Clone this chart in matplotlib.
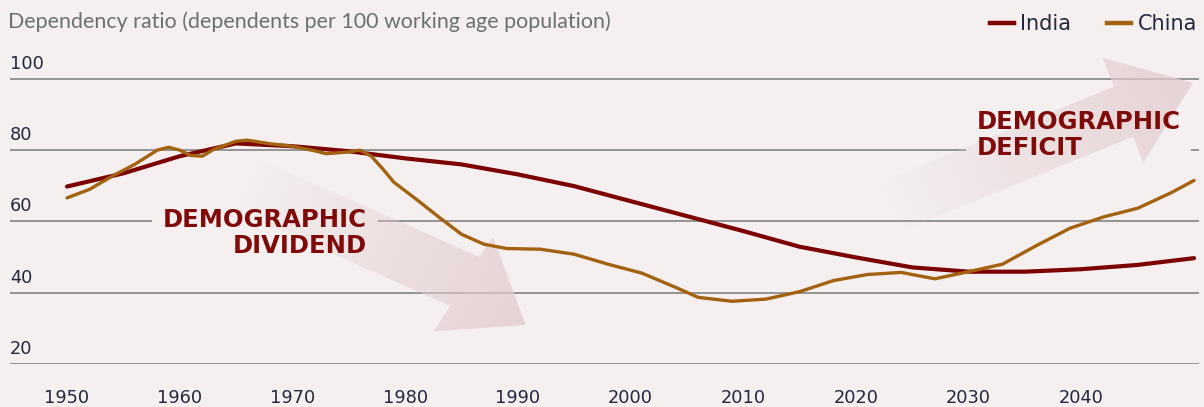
import numpy as np
import matplotlib
matplotlib.use("Agg")
import matplotlib.pyplot as plt
from matplotlib.patches import Polygon
from matplotlib.lines import Line2D

# Dependency ratio series (dependents per 100 working age population)
india_years = [1950, 1955, 1960, 1965, 1970, 1975, 1980, 1985, 1990, 1995, 2000,
               2005, 2010, 2015, 2020, 2025, 2030, 2035, 2040, 2045, 2050]
india_ratio = [69.8, 73.5, 78.3, 81.9, 81.1, 79.7, 77.7, 76.0, 73.2, 69.9, 65.7,
               61.5, 57.3, 52.9, 49.9, 47.1, 45.9, 45.9, 46.6, 47.8, 49.7]

china_years = [1950, 1952, 1954, 1956, 1958, 1959, 1960, 1961, 1962, 1963, 1965,
               1966, 1968, 1970, 1972, 1973, 1975, 1976, 1977, 1978, 1979, 1981,
               1983, 1985, 1987, 1989, 1992, 1995, 1998, 2001, 2004, 2006, 2009,
               2012, 2015, 2018, 2021, 2024, 2027, 2030, 2033, 2036, 2039, 2042,
               2045, 2048, 2050]
china_ratio = [66.6, 69.0, 72.7, 76.0, 80.0, 80.8, 80.0, 78.5, 78.3, 80.2, 82.5,
               82.8, 81.8, 81.1, 79.8, 79.0, 79.5, 80.0, 78.3, 74.8, 71.0, 66.2,
               61.2, 56.4, 53.6, 52.4, 52.2, 50.8, 48.0, 45.5, 41.5, 38.7, 37.6,
               38.2, 40.3, 43.4, 45.1, 45.7, 43.9, 45.9, 48.0, 53.2, 58.1, 61.3,
               63.7, 68.1, 71.5]

x_ticks = [1950, 1960, 1970, 1980, 1990, 2000, 2010, 2020, 2030, 2040]
y_ticks = [20, 40, 60, 80, 100]

# decorative trend arrows, outline as (year, ratio) from tail to head
dividend_arrow = [(1967.1, 77.4), (1986.6, 50.0), (1987.8, 55.6), (1990.7, 31.0),
                  (1982.5, 29.1), (1984.0, 36.3), (1964.5, 63.7)]
deficit_arrow = [(2022.1, 70.9), (2042.9, 97.8), (2041.9, 105.9), (2049.9, 98.9),
                 (2045.5, 76.5), (2044.6, 83.8), (2023.8, 57.0)]

BG = "#f5efef"
INDIA = "#7d0000"
CHINA = "#a3620f"
LABEL = "#7f0a0a"
NAVY = "#23273f"
GRID = "#8c8c8c"
ARROW = (0.89, 0.80, 0.81)

fig = plt.figure(figsize=(12.04, 4.07), dpi=100, facecolor=BG)
ax = fig.add_axes([10 / 1204, 43 / 407, 1189 / 1204, 314 / 407])
ax.set_facecolor(BG)
ax.set_xlim(1944.94, 2050.44)
ax.set_ylim(20, 108.1)

for s in ax.spines.values():
    s.set_visible(False)
ax.set_yticks(y_ticks)
ax.set_yticklabels([])
ax.tick_params(axis="y", length=0)
ax.set_xticks(x_ticks)
ax.tick_params(axis="x", length=0, pad=18, labelsize=12.8, labelcolor=NAVY)
for v in y_ticks:
    ax.axhline(v, color=GRID, lw=1.3, zorder=1)
    ax.text(0.0, v + 1.7, str(v), transform=ax.get_yaxis_transform(),
            ha="left", va="bottom", fontsize=12.8, color=NAVY)


def gradient_arrow(points):
    # fill the arrow outline with a colour that fades out towards the tail
    poly = Polygon(points, closed=True, facecolor="none", edgecolor="none",
                   transform=ax.transData)
    ax.add_patch(poly)
    xs = np.array([p[0] for p in points])
    ys = np.array([p[1] for p in points])
    gx, gy = np.meshgrid(np.linspace(xs.min(), xs.max(), 300),
                         np.linspace(ys.min(), ys.max(), 300))
    pix = ax.transData.transform(np.column_stack([gx.ravel(), gy.ravel()]))
    tail = ax.transData.transform([(xs[0] + xs[-1]) / 2, (ys[0] + ys[-1]) / 2])
    tip = ax.transData.transform([xs[3], ys[3]])
    d = tip - tail
    t = ((pix - tail) @ d) / (d @ d)
    alpha = np.clip(t, 0, 1).reshape(gx.shape) ** 0.9 * 0.8
    img = np.zeros(gx.shape + (4,))
    img[..., :3] = ARROW
    img[..., 3] = alpha
    im = ax.imshow(img, extent=(xs.min(), xs.max(), ys.min(), ys.max()),
                   origin="lower", aspect="auto", zorder=2, interpolation="bilinear")
    im.set_clip_path(poly)


def callout(x, y, text, ha):
    # background patch hides the gridline behind the label, text goes on top
    kw = dict(ha=ha, va="center", multialignment=ha, fontsize=17.5,
              fontweight="bold", linespacing=1.1)
    ax.text(x, y, text, color=(0, 0, 0, 0), zorder=1.5,
            bbox=dict(boxstyle="square,pad=0.45", facecolor=BG, edgecolor="none"), **kw)
    ax.text(x, y, text, color=LABEL, zorder=4, **kw)


gradient_arrow(dividend_arrow)
gradient_arrow(deficit_arrow)

ax.plot(india_years, india_ratio, color=INDIA, lw=3.0, zorder=3,
        solid_capstyle="round", solid_joinstyle="round")
ax.plot(china_years, china_ratio, color=CHINA, lw=2.4, zorder=3,
        solid_capstyle="round", solid_joinstyle="round")

callout(1976.6, 56.7, "DEMOGRAPHIC\nDIVIDEND", "right")
callout(2030.7, 84.2, "DEMOGRAPHIC\nDEFICIT", "left")

fig.text(8 / 1204, 1 - 22 / 407, "Dependency ratio (dependents per 100 working age population)",
         ha="left", va="center", fontsize=15.4, color="#6b7070",
         family=["Lato", "DejaVu Sans"])

handles = [Line2D([], [], color=INDIA, lw=3.2), Line2D([], [], color=CHINA, lw=3.2)]
fig.legend(handles, ["India", "China"], loc="center right",
           bbox_to_anchor=(1197 / 1204, 1 - 24 / 407), ncol=2, frameon=False,
           fontsize=15, labelcolor=NAVY, handlelength=1.15, handletextpad=0.3,
           columnspacing=1.75, borderaxespad=0, borderpad=0)

fig.savefig("out.png", dpi=100, facecolor=BG)
